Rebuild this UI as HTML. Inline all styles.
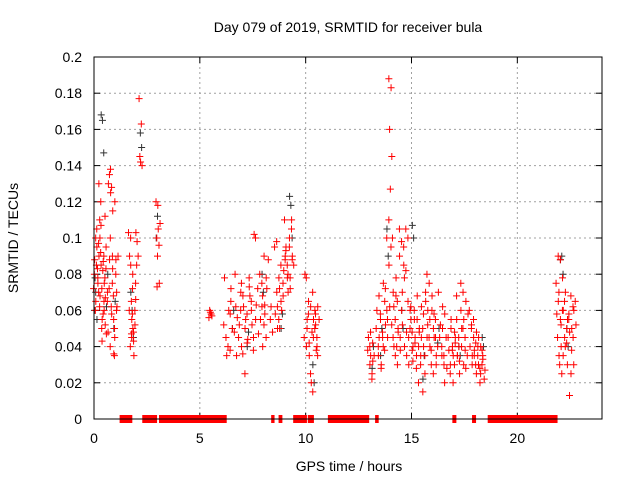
<!DOCTYPE html>
<html><head><meta charset="utf-8">
<style>
html,body{margin:0;padding:0;background:#fff;}
svg{display:block;font-family:"Liberation Sans",sans-serif;}
</style></head>
<body>
<svg id="chart" width="640" height="480" viewBox="0 0 640 480">
<text x="348" y="32" font-size="14" text-anchor="middle">Day 079 of 2019, SRMTID for receiver bula</text>
<text transform="translate(18,238) rotate(-90)" font-size="14" text-anchor="middle">SRMTID / TECUs</text>
<text x="349" y="471" font-size="14" text-anchor="middle">GPS time / hours</text>
<g id="grid"></g>
<g id="ticks"></g>
<g id="bars"></g>
<g id="blackpts"></g>
<g id="redpts"></g>
<rect x="94" y="57" width="508" height="362" fill="none" stroke="#000" stroke-width="1"/>
</svg>
<script>
const xTicks=[0,5,10,15,20];
const xTickLabels=["0","5","10","15","20"];
const yTicks=[0,0.02,0.04,0.06,0.08,0.1,0.12,0.14,0.16,0.18,0.2];
const yTickLabels=["0","0.02","0.04","0.06","0.08","0.1","0.12","0.14","0.16","0.18","0.2"];
const coverageStart=[1.21,2.28,3.07,8.37,8.72,9.41,10.10,11.05,13.28,16.93,17.86,18.6];
const coverageEnd=[1.81,2.98,6.27,8.53,8.90,10.06,10.39,13.0,13.45,17.12,18.05,21.9];
const redGroups=[
[0.05,[.072,.065,.08]],[0.1,[.088,.095,.06]],[0.15,[.1,.075,.085,.07]],[0.2,[.105,.09,.083,.11]],[0.25,[.078,.068,.097,.12]],[0.3,[.13,.085,.062,.072]],[0.35,[.1,.055,.092]],[0.4,[.107,.087,.05,.065]],[0.45,[.043,.075,.082,.112]],[0.5,[.058,.067,.09,.095]],[0.55,[.06,.047,.078]],[0.6,[.052,.07,.083]],[0.7,[.065,.088,.048,.1]],[0.75,[.13,.125,.072]],[0.8,[.135,.058,.04,.09]],[0.85,[.138,.115,.062]],[0.9,[.128,.036,.075,.05]],[0.95,[.083,.12,.068]],[1.0,[.055,.088,.035,.07]],[1.05,[.045,.062]],[1.1,[.08,.09,.06]],
[1.7,[.103,.085,.06,.047]],[1.75,[.09,.055,.04,.072]],[1.8,[.1,.05,.065,.043]],[1.85,[.045,.035,.058]],[1.9,[.08,.052,.048,.066]],[2.0,[.06,.098,.075]],[2.05,[.103,.09,.085]],[2.2,[.177,.163,.145,.14,.142]],[3.0,[.12,.105,.1,.096,.09]],[3.05,[.073,.075,.118,.108]],
[5.5,[.056,.058,.06,.057,.059]],
[6.2,[.052,.045,.078,.035]],[6.4,[.04,.058,.06,.072]],[6.5,[.038,.05,.065]],[6.7,[.048,.035,.08,.056,.062]],[6.9,[.045,.07,.052,.04]],[7.0,[.06,.068,.075]],[7.1,[.036,.05,.062]],[7.2,[.025,.042,.055]],[7.3,[.058,.073,.044]],[7.4,[.078,.06,.068]],[7.5,[.065,.045,.052]],[7.6,[.038,.055,.102]],[7.7,[.1,.072,.063,.047]],[7.9,[.08,.062,.055,.04]],[8.0,[.075,.09,.068,.058]],[8.1,[.052,.078,.063]],[8.2,[.045,.088,.072]],[8.4,[.055,.048,.062]],[8.6,[.095,.07,.058,.05]],[8.7,[.098,.078,.062,.05]],[8.8,[.055,.065,.072]],[8.9,[.085,.068,.06]],[9.0,[.075,.09,.082,.095,.11]],[9.1,[.088,.078,.093,.07]],[9.2,[.085,.1,.08,.072]],[9.3,[.095,.11,.078,.09]],[9.4,[.105,.085,.088]],
[10.0,[.045,.04,.08,.055]],[10.1,[.078,.065,.05,.035]],[10.2,[.058,.062,.042]],[10.3,[.025,.015,.02,.055,.048]],[10.4,[.07,.06,.045,.052]],[10.5,[.05,.04,.058,.062,.038]],[10.6,[.045,.055,.035]],
[13.0,[.038,.03,.045,.035]],[13.1,[.04,.025,.048,.032]],[13.2,[.022,.035,.042]],[13.4,[.05,.035,.06,.045]],[13.5,[.04,.055,.068,.03]],[13.6,[.058,.045,.028,.075]],[13.7,[.048,.065,.04,.052]],[13.8,[.038,.06,.072,.045]],[13.9,[.1,.085,.055,.062]],[14.0,[.188,.183,.16,.145,.127,.11]],[14.1,[.095,.07,.052,.04,.1]],[14.2,[.045,.035,.062,.078]],[14.3,[.055,.03,.068,.048,.04]],[14.4,[.065,.09,.05,.038]],[14.5,[.105,.06,.045,.052]],[14.6,[.098,.085,.07,.04]],[14.7,[.095,.082,.078,.035]],[14.8,[.105,.065,.048,.03]],[14.9,[.1,.06,.045,.055]],[15.0,[.05,.038,.062,.04]],[15.1,[.048,.055,.032,.045]],[15.2,[.06,.035,.042,.068]],[15.3,[.028,.04,.055,.05]],[15.4,[.02,.035,.048,.062]],[15.5,[.03,.015,.045,.04]],[15.6,[.05,.025,.058,.065]],[15.7,[.035,.045,.07,.06]],[15.8,[.08,.075,.052,.04]],[15.9,[.045,.03,.055,.068]],[16.0,[.038,.05,.06,.045]],[16.1,[.025,.045,.058,.035]],[16.2,[.055,.04,.03,.07]],[16.4,[.045,.035,.052,.062]],[16.5,[.04,.03,.05,.058]],[16.6,[.035,.045,.02,.028]],
[16.8,[.045,.03,.038,.055]],[16.9,[.025,.04,.05,.035]],[17.0,[.038,.048,.02,.045]],[17.1,[.03,.055,.042,.035]],[17.2,[.068,.04,.035,.025]],[17.3,[.045,.06,.032,.05]],[17.4,[.075,.07,.04,.055]],[17.5,[.05,.038,.03,.065]],[17.6,[.045,.035,.028,.058]],[17.8,[.06,.052,.04,.035]],[17.9,[.05,.045,.03,.038]],[18.0,[.055,.042,.035,.048]],[18.1,[.03,.04,.025,.045]],[18.2,[.035,.02,.03,.04]],[18.3,[.028,.038,.025,.033]],[18.4,[.03,.022,.035,.027]],
[21.9,[.075,.065,.058,.035,.045]],[22.0,[.09,.055,.07,.04,.03]],[22.1,[.088,.078,.052,.06,.025]],[22.2,[.06,.045,.035,.07]],[22.3,[.065,.05,.04,.055]],[22.4,[.042,.058,.03,.048]],[22.5,[.055,.025,.013,.05]],[22.6,[.068,.045,.038,.06]],[22.7,[.062,.065,.03,.052]]
];
const blackGroups=[
[0.08,[.06,.07,.055,.078]],[0.4,[.168,.165,.147]],[0.65,[.062,.08]],[1.0,[.05,.065]],[1.8,[.07,.06,.045]],[2.25,[.158,.15]],[3.0,[.1,.112]],
[6.6,[.05,.06]],[7.3,[.04,.048]],[8.0,[.08,.07]],[8.9,[.05,.058]],[9.3,[.123,.118,.1]],[10.4,[.03,.02]],
[13.2,[.028,.04]],[13.6,[.035,.05]],[13.9,[.105,.09]],[14.6,[.06,.05]],[15.1,[.107,.1]],[15.6,[.022,.035]],[16.3,[.042,.05]],[17.3,[.04,.035]],[18.4,[.045,.04]],[22.1,[.088,.09,.08]],[22.4,[.05,.04]]
];
const NS="http://www.w3.org/2000/svg";
const X0=94,X1=602,Y0=419,Y1=57,XMAX=24,YMAX=0.2;
function xs(h){return X0+(X1-X0)*h/XMAX;}
function ys(v){return Y0-(Y0-Y1)*v/YMAX;}
function mk(tag,attrs,parent){const e=document.createElementNS(NS,tag);for(const k in attrs)e.setAttribute(k,attrs[k]);parent.appendChild(e);return e;}
const grid=document.getElementById('grid'),ticks=document.getElementById('ticks');
yTicks.forEach((v,i)=>{
  const y=ys(v);
  if(i>0&&i<yTicks.length-1){const g=mk('line',{x1:X0,x2:X1,y1:y,y2:y,stroke:'#a0a0a0','stroke-dasharray':'2,3'},grid);
  
  }
  const t=mk('line',{x1:X0,x2:X0+6,y1:y,y2:y,stroke:'#000'},ticks);
  
  
  const t2=mk('line',{x1:X1-6,x2:X1,y1:y,y2:y,stroke:'#000'},ticks);
  
  
  const l=mk('text',{x:X0-12,y:y+5,'font-size':'14','text-anchor':'end'},ticks);
  l.textContent=yTickLabels[i];
  
  
});
xTicks.forEach((h,i)=>{
  const x=xs(h);
  if(i>0){const g=mk('line',{x1:x,x2:x,y1:Y1,y2:Y0,stroke:'#a0a0a0','stroke-dasharray':'2,3'},grid);
  
  }
  const t=mk('line',{x1:x,x2:x,y1:Y0-6,y2:Y0,stroke:'#000'},ticks);
  
  
  const t2=mk('line',{x1:x,x2:x,y1:Y1,y2:Y1+6,stroke:'#000'},ticks);
  
  
  const l=mk('text',{x:x,y:443,'font-size':'14','text-anchor':'middle'},ticks);
  l.textContent=xTickLabels[i];
  
  
});
const bars=document.getElementById('bars');
coverageStart.forEach((s,i)=>{
  const r=mk('rect',{x:xs(s),y:Y0-4,width:xs(coverageEnd[i])-xs(s),height:8,fill:'#ff0000'},bars);
  
  
});
function plus(parent,h,v,col,name){
  const x=xs(h),y=ys(v);
  const p=mk('path',{d:`M${x-3.5},${y}H${x+3.5}M${x},${y-3.5}V${y+3.5}`,stroke:col,'stroke-width':'1',fill:'none'},parent);
  
  
}
const bp=document.getElementById('blackpts'),rp=document.getElementById('redpts');
blackGroups.forEach(([h,vals])=>vals.forEach((v,j)=>plus(bp,h+((j*2)%5-2)*0.03,v,'#333','black-point')));
redGroups.forEach(([h,vals])=>vals.forEach((v,j)=>plus(rp,h+((j*3)%5-2)*0.035,v,'#ff0000','red-point')));
</script>
</body></html>
